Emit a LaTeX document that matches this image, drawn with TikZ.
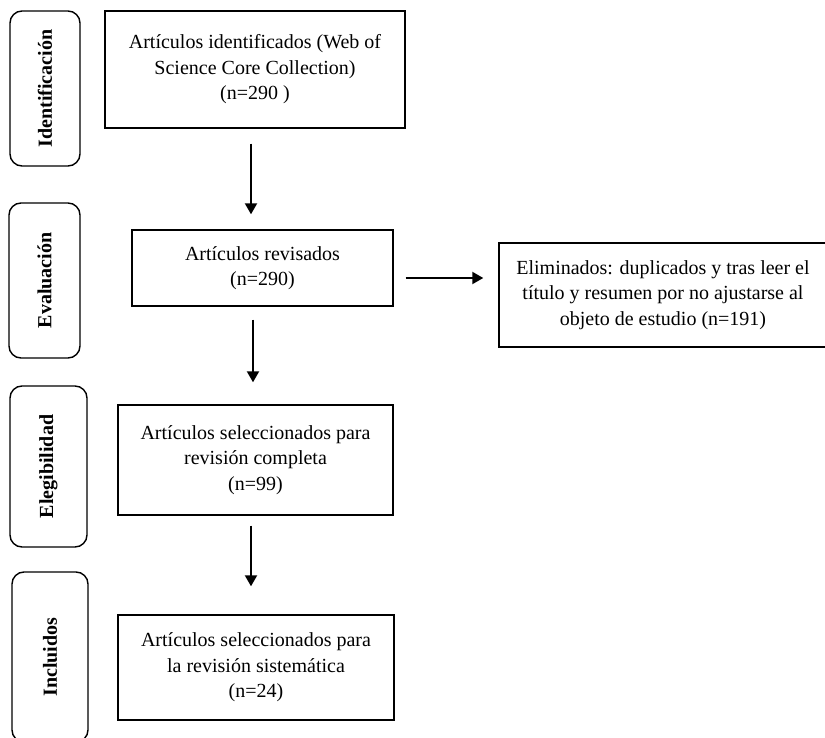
\documentclass[tikz,border=0pt]{standalone}
\usepackage{fontspec}
\setmainfont{Liberation Serif}
\usetikzlibrary{arrows.meta}

\tikzset{
    caja/.style={draw, line width=1.4pt, align=center, inner sep=0pt,
        font=\fontsize{20}{25.5}\selectfont},
    fase/.style={draw, line width=1.4pt, rounded corners=12pt, rotate=90,
        inner sep=0pt, font=\bfseries\fontsize{20}{22}\selectfont},
    flecha/.style={line width=2pt, -{Triangle[width=12pt,length=11pt]}}
}

\begin{document}
\begin{tikzpicture}[x=1pt,y=-1pt]
    \clip (0,0) rectangle (825,738);

    % Phase labels on the left
    \node[fase, minimum width=155, minimum height=70] (identificacion) at (45,88.5) {Identificación};
    \node[fase, minimum width=155, minimum height=71] (evaluacion) at (44.5,280.5) {Evaluación};
    \node[fase, minimum width=161, minimum height=77] (elegibilidad) at (48.5,466.5) {Elegibilidad};
    \node[fase, minimum width=170, minimum height=76] (incluidos) at (50,657) {Incluidos};

    % Main boxes
    \node[caja, minimum width=300, minimum height=117] (ident) at (255,69.5)
        {Artículos identificados (Web of\\ Science Core Collection)\\ (n=290 )};
    \node[caja, minimum width=261, minimum height=76] (revis) at (262.5,268)
        {Artículos revisados\\ (n=290)};
    \node[caja, minimum width=275, minimum height=110] (selec) at (255.5,460)
        {Artículos seleccionados para\\ revisión completa\\ (n=99)};
    \node[caja, minimum width=276, minimum height=105] (incl) at (256,667.5)
        {Artículos seleccionados para\\ la revisión sistemática\\ (n=24)};
    \node[caja, minimum width=328, minimum height=104] (elim) at (663,295)
        {Eliminados: duplicados y tras leer el\\ título y resumen por no ajustarse al\\ objeto de estudio (n=191)};

    % Arrows
    \draw[flecha, shorten <=15pt, shorten >=15pt]
        ([xshift=-4pt]ident.south) -- ([xshift=-4pt]ident.south |- revis.north);
    \draw[flecha, shorten <=13pt, shorten >=22pt]
        ([xshift=-9.5pt]revis.south) -- ([xshift=-9.5pt]revis.south |- selec.north);
    \draw[flecha, shorten <=10pt, shorten >=28pt]
        ([xshift=-4.5pt]selec.south) -- ([xshift=-4.5pt]selec.south |- incl.north);
    \draw[flecha, shorten <=12pt, shorten >=15pt]
        ([yshift=-10pt]revis.east) -- ([yshift=-10pt]revis.east -| elim.west);
\end{tikzpicture}
\end{document}
